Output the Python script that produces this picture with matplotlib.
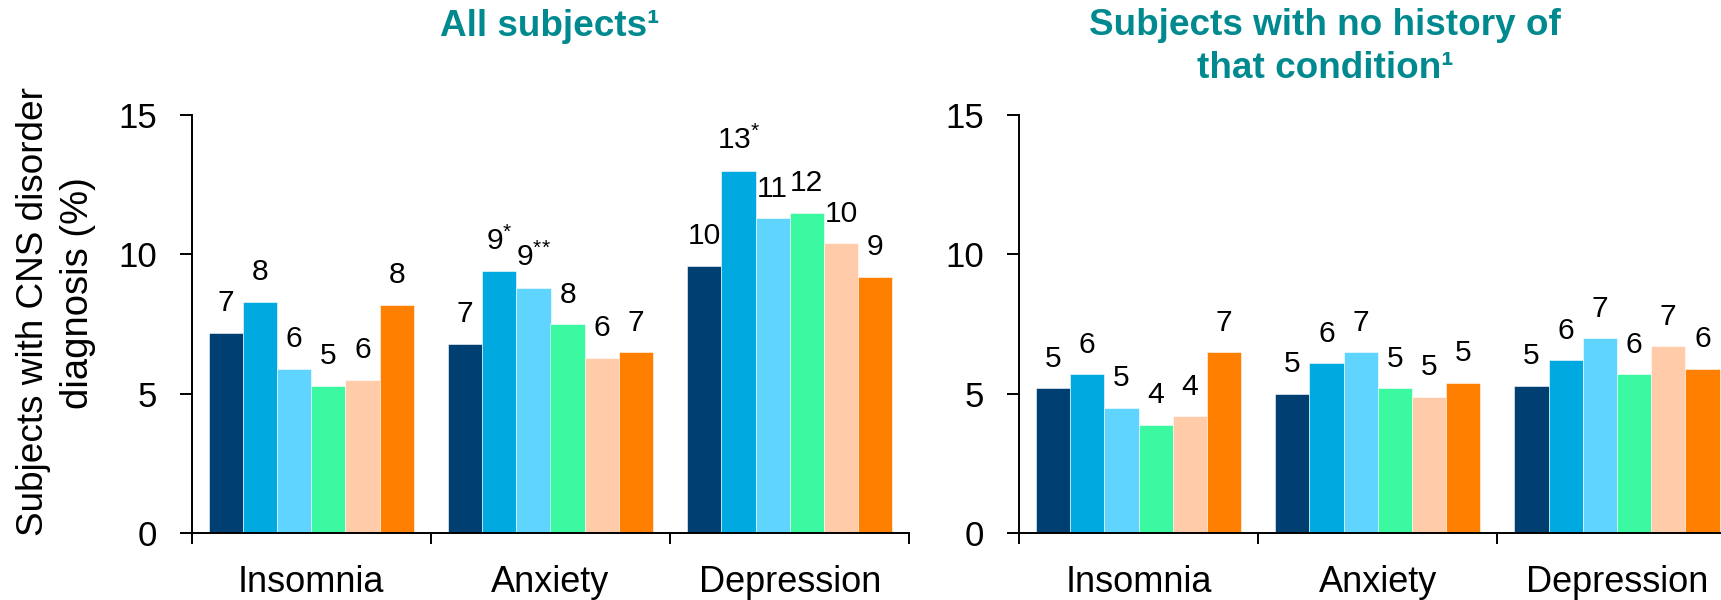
import matplotlib
matplotlib.use("Agg")
import matplotlib.pyplot as plt
import numpy as np

plt.rcParams["font.family"] = ["Liberation Sans", "DejaVu Sans"]
plt.rcParams["mathtext.fontset"] = "custom"
plt.rcParams["mathtext.rm"] = "Liberation Sans"
plt.rcParams["mathtext.it"] = "Liberation Sans:italic"
plt.rcParams["mathtext.bf"] = "Liberation Sans:bold"

# ---- data -------------------------------------------------------------
categories = ["Insomnia", "Anxiety", "Depression"]
series_colors = ["#003F72", "#00A9E0", "#5FD4FF", "#3AF9A0", "#FFCBA8", "#FF7F00"]

# All subjects (%), six cohorts per condition
all_insomnia = [7.2, 8.3, 5.9, 5.3, 5.5, 8.2]
all_anxiety = [6.8, 9.4, 8.8, 7.5, 6.3, 6.5]
all_depression = [9.6, 13.0, 11.3, 11.5, 10.4, 9.2]
all_marks = [["", "", "", "", "", ""],
             ["", "*", "**", "", "", ""],
             ["", "*", "", "", "", ""]]

# Subjects with no history of that condition (%)
new_insomnia = [5.2, 5.7, 4.5, 3.9, 4.2, 6.5]
new_anxiety = [5.0, 6.1, 6.5, 5.2, 4.9, 5.4]
new_depression = [5.3, 6.2, 7.0, 5.7, 6.7, 5.9]
new_marks = [[""] * 6, [""] * 6, [""] * 6]

left_title = "All subjects\u00b9"
right_title_lines = ["Subjects with no history of", "that condition\u00b9"]
y_label_lines = ["Subjects with CNS disorder", "diagnosis (%)"]
y_ticks = [0, 5, 10, 15]

TEAL = "#00898E"

# ---- layout helpers ---------------------------------------------------
W, H = 1721, 600
fig = plt.figure(figsize=(W / 100, H / 100), dpi=100)


def rect(x0, x1, ytop, ybot):
    return [x0 / W, 1 - ybot / H, (x1 - x0) / W, (ybot - ytop) / H]


def half_up(v):
    return int(np.floor(v + 0.5))


def mark_text(m):
    # each star as its own group so mathtext sets them tight, not as operators
    return "$^{" + "".join("{*}" for _ in m) + "}$" if m else ""


def draw_panel(ax, groups, marks):
    vals = np.array(groups)  # shape (3 categories, 6 series)
    n = vals.shape[1]
    width = 1.0 / (n + 1)
    centers = np.arange(len(categories))
    for i in range(n):
        xs = centers + (i - (n - 1) / 2) * width
        ax.bar(xs, vals[:, i], width=width, color=series_colors[i],
               edgecolor="white", linewidth=0.4, zorder=2)
        for j, (x, v) in enumerate(zip(xs, vals[:, i])):
            txt = str(half_up(v)) + mark_text(marks[j][i])
            ax.annotate(txt, (x, v), xytext=(0, 15.5), textcoords="offset points",
                        ha="center", va="baseline", fontsize=21.6, color="black")
    ax.set_xlim(-0.5, len(categories) - 0.5)
    ax.set_ylim(0, 15)
    ax.set_yticks(y_ticks)
    ax.set_xticks(centers)
    ax.set_xticklabels(categories)
    ax.set_xticks(np.arange(len(categories) + 1) - 0.5, minor=True)
    ax.tick_params(axis="x", which="major", length=0, pad=23, labelsize=26)
    ax.tick_params(axis="x", which="minor", length=7.7, width=1.4, direction="out")
    ax.tick_params(axis="y", length=8.6, width=1.4, pad=16.5, labelsize=25,
                   direction="out")
    for s in ("top", "right"):
        ax.spines[s].set_visible(False)
    for s in ("left", "bottom"):
        ax.spines[s].set_linewidth(1.4)
        ax.spines[s].set_color("black")


ax1 = fig.add_axes(rect(191.7, 909.3, 115, 533.3))
ax2 = fig.add_axes(rect(1019.0, 1736.6, 115, 533.3))

draw_panel(ax1, [all_insomnia, all_anxiety, all_depression], all_marks)
draw_panel(ax2, [new_insomnia, new_anxiety, new_depression], new_marks)

# ---- titles and axis label ---------------------------------------------
fig.text(550 / W, 1 - 36 / H, left_title, ha="center", va="baseline",
         fontsize=26.6, fontweight="bold", color=TEAL)
fig.text(1325 / W, 1 - 35 / H, right_title_lines[0], ha="center", va="baseline",
         fontsize=26.6, fontweight="bold", color=TEAL)
fig.text(1325 / W, 1 - 78 / H, right_title_lines[1], ha="center", va="baseline",
         fontsize=26.6, fontweight="bold", color=TEAL)

# two-line rotated y label, each line anchored at its own baseline
fig.text(43.5 / W, 1 - 311.7 / H, y_label_lines[0], rotation=90,
         rotation_mode="anchor", ha="center", va="baseline", fontsize=26.6)
fig.text(88.5 / W, 1 - 293 / H, y_label_lines[1], rotation=90,
         rotation_mode="anchor", ha="center", va="baseline", fontsize=27.5)

fig.savefig("out.png", dpi=100)
